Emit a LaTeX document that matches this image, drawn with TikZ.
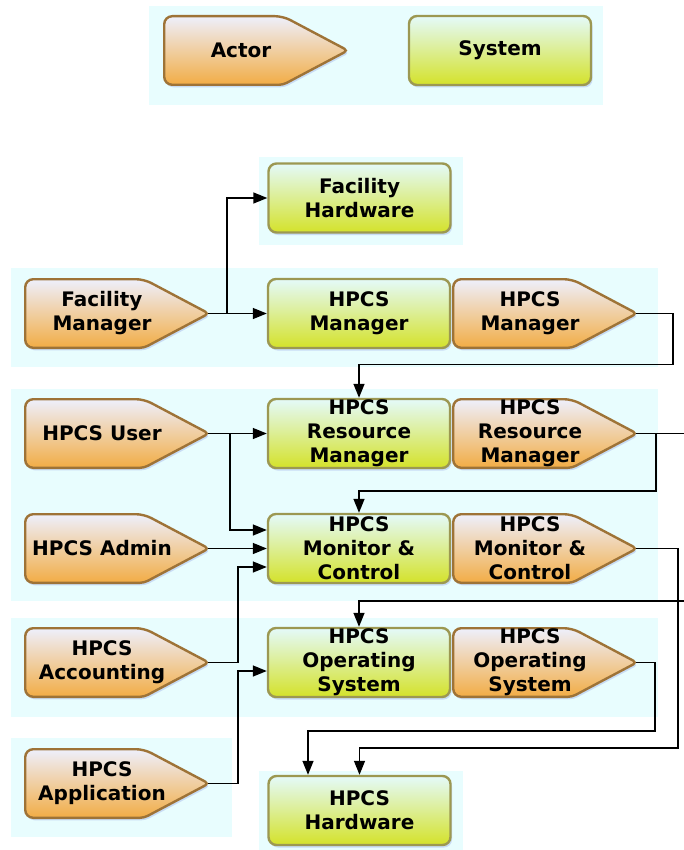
\documentclass[tikz,border=0pt]{standalone}
\usepackage{fontspec}
\setmainfont{DejaVu Sans}
\usetikzlibrary{arrows.meta,shadows,calc}
\definecolor{bgc}{HTML}{E8FDFE}
\definecolor{acttop}{HTML}{EEF0FC}
\definecolor{actbot}{HTML}{F2AC45}
\definecolor{actline}{HTML}{9E7337}
\definecolor{systop}{HTML}{E4FAFA}
\definecolor{sysbot}{HTML}{D4E22A}
\definecolor{sysline}{HTML}{9C9852}
\definecolor{shadowc}{HTML}{8090E0}
\tikzset{
  band/.style={fill=bgc, draw=none},
  lbl/.style={font=\bfseries\fontsize{20}{24}\selectfont, align=center, inner sep=0pt},
  softshadow/.style={drop shadow={shadow xshift=1.5pt, shadow yshift=-2.5pt, opacity=0.3, fill=shadowc}},
  sysbox/.style={lbl, draw=sysline, line width=2.4pt, rounded corners=8pt, top color=systop, bottom color=sysbot, minimum width=182pt, minimum height=69pt, softshadow},
  actshape/.style={draw=actline, line width=2.4pt, top color=acttop, bottom color=actbot, softshadow},
  conn/.style={line width=1.4pt, -{Triangle[length=14pt,width=11pt]}}
}
\newcommand\actornode[4]{%
  \path[actshape] ({#2+1.2},{#3+35.5}) [rounded corners=8pt] -- ({#2+1.2},{#3+1.2}) -- ({#2+120},{#3+1.2})
     [rounded corners=4pt] -- ({#2+184.8},{#3+35.5}) -- ({#2+120},{#3+69.8})
     [rounded corners=8pt] -- ({#2+1.2},{#3+69.8}) -- cycle;
  \node[lbl] (#1) at ({#2+78},{#3+35.5}) {#4};
  \coordinate (#1tip) at ({#2+184},{#3+35.5});
}
\begin{document}
\begin{tikzpicture}[x=1pt,y=-1pt]
\useasboundingbox (0,0) rectangle (683,850);
% bands
\fill[band] (149,6) rectangle (603,105);
\fill[band] (259,157) rectangle (463,245);
\fill[band] (11,268) rectangle (658,367);
\fill[band] (11,389) rectangle (658,601);
\fill[band] (11,618) rectangle (658,717);
\fill[band] (11,738) rectangle (232,837);
\fill[band] (259,771) rectangle (463,850);
% legend
\actornode{legact}{163}{15}{Actor}
\node[sysbox] (legsys) at (500,50.5) {System};
% row: facility
\node[sysbox] (fh) at (359.5,198) {Facility\\Hardware};
\actornode{fm}{24}{278}{Facility\\Manager}
\node[sysbox] (hms) at (359,313.5) {HPCS\\Manager};
\actornode{hma}{452}{278}{HPCS\\Manager}
% resource manager / monitor
\actornode{user}{24}{398}{HPCS User}
\node[sysbox] (rms) at (359,433.5) {HPCS\\Resource\\Manager};
\actornode{rma}{452}{398}{HPCS\\Resource\\Manager}
\actornode{admin}{24}{513}{HPCS Admin}
\node[sysbox] (mcs) at (359,548.5) {HPCS\\Monitor \&\\Control};
\actornode{mca}{452}{513}{HPCS\\Monitor \&\\Control}
% operating system
\actornode{acct}{24}{627}{HPCS\\Accounting}
\node[sysbox] (oss) at (359,662.5) {HPCS\\Operating\\System};
\actornode{osa}{452}{627}{HPCS\\Operating\\System}
% application / hardware
\actornode{app}{24}{748}{HPCS\\Application}
\node[sysbox] (hw) at (359.5,810.5) {HPCS\\Hardware};
% connectors
\draw[conn] (fmtip) -- (hms.west);
\draw[conn] (fmtip) -- ++(19,0) |- (fh.west);
\draw[conn] (hmatip) -- ++(37,0) -- ++(0,51) -| (rms.north);
\draw[conn] (usertip) -- (rms.west);
\draw[conn] (usertip) -- ++(22,0) |- ($(mcs.west)+(0,-18.5)$);
\draw[conn] (admintip) -- (mcs.west);
\draw[conn] (accttip) -- ++(30,0) |- ($(mcs.west)+(0,18.5)$);
\draw[conn] (apptip) -- ++(30,0) |- ($(oss.west)+(0,8.5)$);
\draw[conn] (rmatip) -- ++(20,0) -- ++(0,57.5) -| (mcs.north);
\draw[conn] (rmatip) -- ++(60,0) -- ++(0,167.5) -| (oss.north);
\draw[conn] (mcatip) -- ++(42,0) -- ++(0,199.5) -| (hw.north);
\draw[conn] (osatip) -- ++(19,0) -- ++(0,68.5) -| ($(hw.north)+(-51.5,0)$);
\end{tikzpicture}
\end{document}
